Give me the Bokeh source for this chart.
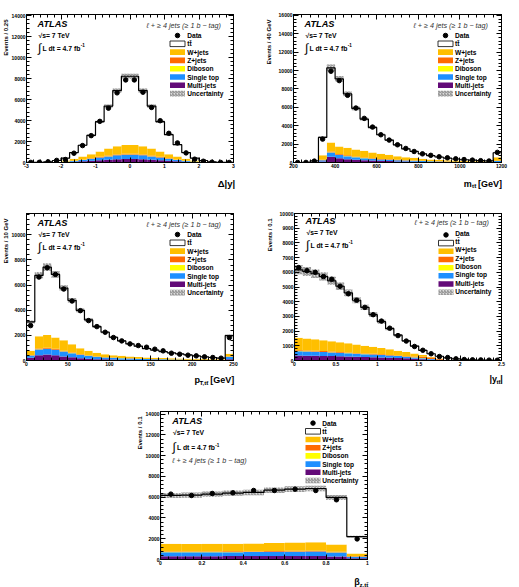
import numpy as np
from bokeh.embed import file_html
from bokeh.layouts import column, row
from bokeh.models import (CustomJSTickFormatter, Label, LinearAxis, Range1d,
                          SingleIntervalTicker, Spacer, Title)
from bokeh.plotting import figure
from bokeh.resources import INLINE

FONT = "Liberation Sans"

# Process colours
C_TTBAR = "#ffffff"
C_WJETS = "#ffbf00"
C_ZJETS = "#ff6a00"
C_DIBOSON = "#ffff00"
C_STOP = "#1e8fff"
C_MULTIJET = "#630a78"
HATCH_COLOR = "#6e6e6e"

LEGEND_LABELS = ["Data", "tt\u0304", "W+jets", "Z+jets", "Diboson",
                 "Single top", "Multi-jets", "Uncertainty"]

# ---------------- Delta|y| (bins of 0.25 from -3 to 3) ----------------
dy_start, dy_width = -3.0, 0.25
dy_data = [10, 20, 60, 200, 284, 885, 1611, 2560, 3918, 5180, 6635, 7867,
           7867, 6698, 5245, 3981, 2780, 1864, 916, 316, 120, 30, 10, 5]
dy_ttbar = [8, 15, 40, 130, 221, 598, 1073, 1800, 2846, 4041, 5306, 6540,
            6540, 5306, 4041, 2846, 1860, 1130, 598, 221, 130, 40, 15, 8]
dy_wjets = [1, 2, 7, 23, 96, 172, 278, 385, 502, 670, 783, 841,
            841, 783, 670, 502, 385, 278, 172, 96, 23, 7, 2, 1]
dy_zjets = [0, 0, 2, 5, 10, 20, 30, 40, 50, 60, 65, 70,
            70, 65, 60, 50, 40, 30, 20, 10, 5, 2, 0, 0]
dy_diboson = [0, 0, 1, 2, 4, 8, 12, 15, 18, 20, 22, 24,
              24, 22, 20, 18, 15, 12, 8, 4, 2, 1, 0, 0]
dy_stop = [1, 2, 5, 15, 40, 80, 130, 180, 250, 310, 370, 410,
           410, 370, 310, 250, 180, 130, 80, 40, 15, 5, 2, 1]
dy_multijet = [0, 1, 5, 15, 40, 70, 120, 170, 220, 270, 310, 330,
               330, 310, 270, 220, 170, 120, 70, 40, 15, 5, 1, 0]

# ---------------- m_ttbar (40 GeV bins from 200 to 1200) ----------------
mtt_start, mtt_width = 200.0, 40.0
mtt_data = [0, 10, 150, 2545, 9927, 8909, 7309, 5927, 4800, 3855, 3018, 2436, 1927,
            1527, 1200, 940, 780, 620, 510, 400, 320, 260, 200, 160, 1100]
mtt_ttbar = [0, 8, 120, 1927, 8110, 7345, 5855, 4470, 3457, 2728, 2073, 1600, 1237,
             910, 690, 545, 413, 310, 225, 162, 120, 105, 70, 60, 480]
mtt_wjets = [0, 1, 20, 505, 975, 815, 822, 758, 727, 625, 558, 496, 397,
             324, 298, 223, 180, 165, 148, 128, 105, 83, 76, 64, 390]
mtt_zjets = [0, 0, 4, 40, 100, 80, 75, 70, 62, 55, 48, 42, 36,
             30, 27, 22, 18, 16, 14, 12, 10, 8, 7, 6, 30]
mtt_diboson = [0, 0, 1, 5, 15, 14, 13, 12, 11, 10, 9, 8, 7,
               6, 5, 5, 4, 4, 3, 3, 3, 2, 2, 2, 10]
mtt_stop = [0, 1, 15, 140, 470, 366, 330, 290, 220, 190, 150, 140, 140,
            120, 100, 85, 70, 60, 52, 43, 35, 30, 27, 23, 90]
mtt_multijet = [0, 0, 20, 110, 620, 470, 360, 290, 250, 210, 180, 150, 110,
                100, 80, 65, 55, 45, 38, 32, 27, 22, 18, 15, 60]

# ---------------- pT,ttbar (10 GeV bins from 0 to 250) ----------------
ptt_start, ptt_width = 0.0, 10.0
ptt_data = [2778, 6640, 7380, 6852, 5688, 4735, 3968, 3175, 2698, 2249, 1825, 1560, 1323,
            1190, 1058, 900, 767, 580, 500, 423, 370, 290, 238, 185, 1825]
ptt_ttbar = [2302, 4841, 5397, 5027, 4153, 3492, 3016, 2461, 2090, 1746, 1429, 1190, 1006,
             862, 710, 599, 514, 430, 366, 305, 239, 171, 131, 89, 1455]
ptt_wjets = [340, 973, 1018, 897, 831, 657, 484, 361, 288, 241, 191, 167, 142,
             130, 120, 110, 100, 90, 85, 78, 70, 64, 58, 52, 208]
ptt_zjets = [25, 70, 75, 65, 55, 45, 35, 28, 22, 18, 15, 13, 11,
             10, 9, 8, 7, 6, 6, 5, 4, 4, 3, 3, 20]
ptt_diboson = [5, 15, 18, 16, 14, 12, 10, 8, 7, 6, 5, 5, 4,
               4, 3, 3, 3, 2, 2, 2, 2, 2, 1, 1, 10]
ptt_stop = [185, 450, 450, 424, 397, 317, 265, 238, 185, 148, 137, 120, 105,
            84, 68, 63, 58, 52, 45, 38, 36, 33, 30, 27, 185]
ptt_multijet = [212, 423, 476, 423, 317, 265, 185, 132, 106, 90, 75, 65, 55,
                48, 42, 37, 32, 28, 25, 22, 19, 17, 15, 13, 106]

# ---------------- |y_ttbar| (bins of 0.1 from 0 to 2.5) ----------------
ytt_start, ytt_width = 0.0, 0.1
ytt_data = [6320, 6110, 6000, 5710, 5530, 5047, 4540, 4105, 3612, 3118, 2680, 2198, 1694,
            1323, 954, 696, 460, 270, 200, 112, 67, 45, 40, 25, 20]
ytt_ttbar = [4620, 4550, 4460, 4340, 4110, 3810, 3430, 3010, 2610, 2190, 1790, 1410, 1050,
             750, 500, 310, 200, 160, 130, 90, 62, 41, 28, 19, 15]
ytt_wjets = [845, 817, 780, 742, 695, 657, 620, 573, 526, 479, 432, 380, 328,
             275, 206, 117, 63, 24, 7, 3, 1, 1, 0, 1, 0]
ytt_zjets = [60, 58, 56, 54, 52, 50, 48, 46, 44, 42, 40, 38, 36,
             40, 60, 100, 90, 50, 20, 8, 3, 1, 1, 0, 0]
ytt_diboson = [15, 15, 14, 14, 13, 13, 12, 11, 10, 9, 8, 7, 6,
               5, 4, 3, 2, 1, 1, 0, 0, 0, 0, 0, 0]
ytt_stop = [295, 280, 270, 258, 248, 230, 215, 200, 185, 172, 160, 145, 130,
            115, 95, 75, 50, 27, 11, 4, 2, 1, 1, 0, 0]
ytt_multijet = [335, 330, 320, 312, 302, 290, 275, 260, 245, 228, 210, 190, 170,
                145, 115, 85, 55, 28, 11, 5, 2, 1, 0, 0, 0]

# ---------------- beta_z,ttbar (bins of 0.1 from 0 to 1) ----------------
bz_start, bz_width = 0.0, 0.1
bz_data = [6294, 6166, 6358, 6422, 6645, 6645, 6773, 6645, 5750, 1980]
bz_ttbar = [4656, 4700, 4784, 4870, 4914, 5097, 5143, 5167, 4524, 1624]
bz_wjets = [730, 720, 730, 729, 737, 756, 793, 821, 694, 279]
bz_zjets = [65, 65, 65, 66, 67, 68, 70, 72, 62, 25]
bz_diboson = [15, 15, 15, 15, 16, 16, 17, 17, 14, 6]
bz_stop = [380, 380, 380, 385, 390, 405, 410, 415, 380, 150]
bz_multijet = [320, 320, 320, 325, 330, 335, 340, 345, 300, 120]

# Relative size of the total uncertainty band per distribution
unc_dy, unc_mtt, unc_ptt, unc_ytt, unc_bz = 0.03, 0.035, 0.04, 0.05, 0.04


def style_axis(ax, interval, show_labels):
    ax.ticker = SingleIntervalTicker(interval=interval, num_minor_ticks=5)
    ax.major_tick_in = 5
    ax.major_tick_out = 0
    ax.minor_tick_in = 3
    ax.minor_tick_out = 0
    ax.axis_line_color = "black"
    ax.major_tick_line_color = "black"
    ax.minor_tick_line_color = "black"
    ax.major_label_text_font = FONT
    ax.major_label_text_font_style = "bold"
    ax.major_label_text_color = "black"
    ax.major_label_text_font_size = "5px"
    if show_labels:
        ax.formatter = CustomJSTickFormatter(
            code="return String(Math.round(tick * 1000) / 1000);")
        ax.major_label_standoff = 1
    else:
        # mirrored ticks only
        ax.formatter = CustomJSTickFormatter(code="return '';")
        ax.major_label_standoff = 0


def put_text(p, sx, sy, text, size, style="bold", align="left",
             color="black", angle=0.0):
    """Text inside the frame, in pixels from the frame's lower-left corner."""
    p.add_layout(Label(x=sx, y=sy, x_units="screen", y_units="screen",
                       text=text, text_font=FONT, text_font_size=f"{size}px",
                       text_font_style=style, text_align=align,
                       text_baseline="middle", text_color=color, angle=angle))


def band(p, left, right, bottom, top):
    p.quad(left=left, right=right, bottom=bottom, top=top,
           fill_color="#b4b4b4", fill_alpha=0.45,
           hatch_pattern="right_diagonal_line", hatch_color=HATCH_COLOR,
           hatch_scale=3, hatch_weight=0.8, line_color=None)


def build_panel(cfg):
    n = len(cfg["data"])
    edges = cfg["start"] + cfg["width"] * np.arange(n + 1)
    x0, x1 = float(edges[0]), float(edges[-1])
    ymax = cfg["ymax"]
    fw = cfg["w"] - cfg["L"] - cfg["R"]
    fh = cfg["h"] - cfg["T"] - cfg["B"]

    p = figure(width=cfg["w"], height=cfg["h"],
               x_range=Range1d(x0, x1), y_range=Range1d(0, ymax),
               output_backend="svg", toolbar_location=None,
               min_border_left=cfg["L"], min_border_right=cfg["R"],
               min_border_top=cfg["T"], min_border_bottom=cfg["B"])
    p.grid.visible = False
    p.outline_line_color = "black"
    p.outline_line_width = 1
    p.background_fill_color = "white"
    p.border_fill_color = "white"

    p.add_layout(LinearAxis(), "above")
    p.add_layout(LinearAxis(), "right")
    bottom_axis = p.below[0]
    left_axis = p.left[0]
    for ax in p.xaxis:
        style_axis(ax, cfg["xint"], ax is bottom_axis)
    for ax in p.yaxis:
        style_axis(ax, cfg["yint"], ax is left_axis)

    left, right = edges[:-1], edges[1:]
    centers = 0.5 * (left + right)

    # stacked prediction, bottom to top
    stack = [(cfg["multijet"], C_MULTIJET), (cfg["stop"], C_STOP),
             (cfg["diboson"], C_DIBOSON), (cfg["zjets"], C_ZJETS),
             (cfg["wjets"], C_WJETS), (cfg["ttbar"], C_TTBAR)]
    base = np.zeros(n)
    for vals, color in stack:
        top = base + np.asarray(vals, dtype=float)
        p.quad(left=left, right=right, bottom=base, top=top,
               fill_color=color, line_color=None)
        base = top
    total = base

    u = cfg["unc"]
    band(p, left, right, total * (1 - u), total * (1 + u))

    xs = np.concatenate([[x0], np.repeat(edges, 2)[1:-1], [x1]])
    ys = np.concatenate([[0.0], np.repeat(total, 2), [0.0]])
    p.line(xs, ys, line_color="black", line_width=1.2)

    p.scatter(centers, cfg["data"], size=4.5, color="black")

    # pixel offsets from the frame's top-left corner -> data coordinates
    def fx(px):
        return x0 + px * (x1 - x0) / fw

    def fy(py):
        return ymax - py * ymax / fh

    # legend
    bl, br, tx, r0, dr = cfg["legend"]
    rows = [r0 + i * dr for i in range(len(LEGEND_LABELS))]
    half = 2.8
    p.scatter([fx(0.5 * (bl + br))], [fy(rows[0])], size=4.5, color="black")
    for i, color in enumerate([C_TTBAR, C_WJETS, C_ZJETS, C_DIBOSON, C_STOP, C_MULTIJET]):
        r = rows[i + 1]
        p.quad(left=[fx(bl)], right=[fx(br)], top=[fy(r - half)], bottom=[fy(r + half)],
               fill_color=color, line_color="black" if i == 0 else None,
               line_width=0.8)
    r = rows[-1]
    band(p, [fx(bl)], [fx(br)], [fy(r + half)], [fy(r - half)])
    for text, r in zip(LEGEND_LABELS, rows):
        put_text(p, tx, fh - r, text, 6.6)

    # ATLAS block
    ax_, ay_ = cfg["atlas"]
    put_text(p, ax_, fh - ay_, "ATLAS", 9.2, style="bold italic")
    sx, sy = cfg["energy"]
    put_text(p, sx, fh - sy, "\u221as= 7 TeV", 6.8)
    lx, ly = cfg["lumi"]
    put_text(p, lx, fh - ly + 0.5, "\u222b", 12, style="normal")
    put_text(p, lx + 4.5, fh - ly, "L dt = 4.7 fb", 6.8)
    put_text(p, lx + 42.8, fh - ly + 2.8, "-1", 4.6)

    hx, hy, halign = cfg["header"]
    put_text(p, hx, fh - hy, "\u2113 + \u2265 4 jets (\u2265 1 b \u2212 tag)",
             7.2, style="italic", align=halign, color="#333333")

    # x-axis title pieces: placed in a border panel so they are not cut by the frame
    for side, text, size, dx, dy, align in cfg["xtitle"]:
        p.add_layout(Label(x=x1 + dx * (x1 - x0) / fw, y=-dy * ymax / fh,
                           text=text, text_font=FONT, text_font_size=f"{size}px",
                           text_font_style="bold", text_align=align,
                           text_baseline="middle", text_color="black"), side)

    # y-axis title, flush with the top of the frame
    p.add_layout(Title(text=cfg["ytitle"], align="right", offset=5, standoff=-2,
                       vertical_align="middle", text_font=FONT,
                       text_font_size="6px", text_font_style="bold",
                       text_color="black"), "left")
    return p


top_block = dict(atlas=(11, 9), energy=(12, 20.5), lumi=(11.5, 33.5),
                 header=(194.5, 11.3, "right"))

p1 = build_panel(dict(
    start=dy_start, width=dy_width, data=dy_data, ttbar=dy_ttbar, wjets=dy_wjets,
    zjets=dy_zjets, diboson=dy_diboson, stop=dy_stop, multijet=dy_multijet,
    unc=unc_dy, ymax=14100, xint=1, yint=2000,
    w=260, h=200, L=26, R=27, T=14, B=38,
    legend=(143.5, 158.5, 160.7, 21, 8.3),
    xtitle=[("below", "\u0394|y|", 9.5, 1.7, 21.3, "right")],
    ytitle="Events / 0.25", **top_block))

p2 = build_panel(dict(
    start=mtt_start, width=mtt_width, data=mtt_data, ttbar=mtt_ttbar, wjets=mtt_wjets,
    zjets=mtt_zjets, diboson=mtt_diboson, stop=mtt_stop, multijet=mtt_multijet,
    unc=unc_mtt, ymax=16100, xint=200, yint=2000,
    w=259, h=200, L=33, R=18, T=14, B=38,
    legend=(144.5, 159.5, 161.5, 21, 8.3),
    xtitle=[("below", "m", 9, -37.7, 21, "left"),
            ("left", "tt\u0304", 6.2, -29.4, 23.3, "left"),
            ("below", "[GeV]", 9, -23.4, 21, "left")],
    ytitle="Events / 40 GeV", **top_block))

p3 = build_panel(dict(
    start=ptt_start, width=ptt_width, data=ptt_data, ttbar=ptt_ttbar, wjets=ptt_wjets,
    zjets=ptt_zjets, diboson=ptt_diboson, stop=ptt_stop, multijet=ptt_multijet,
    unc=unc_ptt, ymax=11700, xint=50, yint=2000,
    w=260, h=200, L=26, R=27, T=13, B=40,
    legend=(143.5, 158.5, 160.7, 21, 8.3),
    xtitle=[("below", "p", 9, -39, 19.7, "left"),
            ("right", "T,tt\u0304", 6.2, -34, 22.4, "left"),
            ("below", "[GeV]", 9, -23.3, 19.7, "left")],
    ytitle="Events / 10 GeV", **top_block))

p4 = build_panel(dict(
    start=ytt_start, width=ytt_width, data=ytt_data, ttbar=ytt_ttbar, wjets=ytt_wjets,
    zjets=ytt_zjets, diboson=ytt_diboson, stop=ytt_stop, multijet=ytt_multijet,
    unc=unc_ytt, ymax=10000, xint=0.5, yint=1000,
    w=259, h=200, L=34, R=18, T=12, B=39,
    legend=(144, 159, 160.7, 21.7, 8.3),
    xtitle=[("below", "|y", 9, -12, 19, "left"),
            ("left", "tt\u0304", 6.2, -5, 21.5, "left"),
            ("below", "|", 9, -1.2, 19, "left")],
    ytitle="Events / 0.1", **top_block))

p5 = build_panel(dict(
    start=bz_start, width=bz_width, data=bz_data, ttbar=bz_ttbar, wjets=bz_wjets,
    zjets=bz_zjets, diboson=bz_diboson, stop=bz_stop, multijet=bz_multijet,
    unc=unc_bz, ymax=14250, xint=0.2, yint=2000,
    w=260, h=187, L=30, R=23, T=11, B=28,
    legend=(145, 160, 161.7, 11.6, 8.2),
    xtitle=[("below", "\u03b2", 9, -13.3, 22.4, "left"),
            ("right", "z,tt\u0304", 6.2, -8, 25, "left")],
    ytitle="Events / 0.1",
    atlas=(11.7, 9.3), energy=(12.5, 21), lumi=(12, 36),
    header=(11.7, 49.3, "left")))

layout = column(row(p1, p2), row(p3, p4), row(Spacer(width=130, height=187), p5))

with open("out.html", "w") as f:
    f.write(file_html(layout, INLINE))
